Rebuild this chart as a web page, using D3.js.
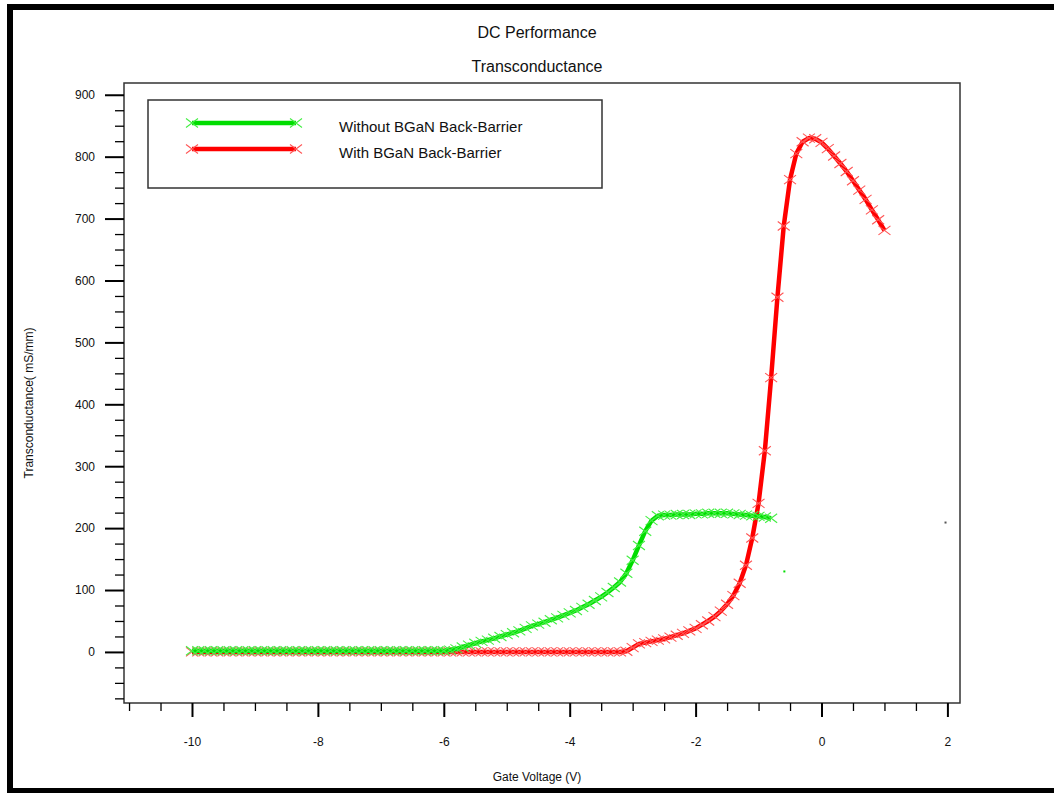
<!DOCTYPE html>
<html>
<head>
<meta charset="utf-8">
<script src="https://cdn.jsdelivr.net/npm/d3@7"></script>
<style>
  body { margin: 0; background: #fff; }
  svg { display: block; font-family: "Liberation Sans", Arial, sans-serif; }
</style>
</head>
<body>
<div id="chart"></div>
<script>
// gate voltage sweeps (V)
const vgRed = [
  -10.0, -9.9, -9.8, -9.7, -9.6, -9.5, -9.4, -9.3, -9.2, -9.1,
  -9.0, -8.9, -8.8, -8.7, -8.6, -8.5, -8.4, -8.3, -8.2, -8.1,
  -8.0, -7.9, -7.8, -7.7, -7.6, -7.5, -7.4, -7.3, -7.2, -7.1,
  -7.0, -6.9, -6.8, -6.7, -6.6, -6.5, -6.4, -6.3, -6.2, -6.1,
  -6.0, -5.9, -5.8, -5.7, -5.6, -5.5, -5.4, -5.3, -5.2, -5.1,
  -5.0, -4.9, -4.8, -4.7, -4.6, -4.5, -4.4, -4.3, -4.2, -4.1,
  -4.0, -3.9, -3.8, -3.7, -3.6, -3.5, -3.4, -3.3, -3.2, -3.1,
  -3.0, -2.9, -2.8, -2.7, -2.6, -2.5, -2.4, -2.3, -2.2, -2.1,
  -2.0, -1.9, -1.8, -1.7, -1.6, -1.5, -1.4, -1.3, -1.2, -1.1,
  -1.0, -0.9, -0.8, -0.7, -0.6, -0.5, -0.4, -0.3, -0.2, -0.1,
  0.0, 0.1, 0.2, 0.3, 0.4, 0.5, 0.6, 0.7, 0.8, 0.9, 1.0
];
// With BGaN back-barrier (mS/mm)
const gmRed = [
  0, 0, 0, 0, 0, 0, 0, 0, 0, 0,
  0, 0, 0, 0, 0, 0, 0, 0, 0, 0,
  0, 0, 0, 0, 0, 0, 0, 0, 0, 0,
  0, 0, 0, 0, 0, 0, 0, 0, 0, 0,
  0, 0, 0, 0, 0, 0, 0, 0, 0, 0,
  0, 0, 0, 0, 0, 0, 0, 0, 0, 0,
  0, 0, 0, 0, 0, 0, 0, 0, 0, 1,
  7, 13, 15, 17, 19, 21, 24, 27, 30, 34,
  38, 44, 50, 57, 66, 77, 91, 111, 140, 184,
  240, 325, 443, 573, 688, 763, 805, 824, 830, 829,
  823, 813, 801, 789, 776, 761, 746, 731, 714, 698, 681
];

const vgGreen = [
  -10.0, -9.9, -9.8, -9.7, -9.6, -9.5, -9.4, -9.3, -9.2, -9.1,
  -9.0, -8.9, -8.8, -8.7, -8.6, -8.5, -8.4, -8.3, -8.2, -8.1,
  -8.0, -7.9, -7.8, -7.7, -7.6, -7.5, -7.4, -7.3, -7.2, -7.1,
  -7.0, -6.9, -6.8, -6.7, -6.6, -6.5, -6.4, -6.3, -6.2, -6.1,
  -6.0, -5.9, -5.8, -5.7, -5.6, -5.5, -5.4, -5.3, -5.2, -5.1,
  -5.0, -4.9, -4.8, -4.7, -4.6, -4.5, -4.4, -4.3, -4.2, -4.1,
  -4.0, -3.9, -3.8, -3.7, -3.6, -3.5, -3.4, -3.3, -3.2, -3.1,
  -3.0, -2.9, -2.8, -2.7, -2.6, -2.5, -2.4, -2.3, -2.2, -2.1,
  -2.0, -1.9, -1.8, -1.7, -1.6, -1.5, -1.4, -1.3, -1.2, -1.1,
  -1.0, -0.9, -0.8
];
// Without BGaN back-barrier (mS/mm)
const gmGreen = [
  2, 2, 2, 2, 2, 2, 2, 2, 2, 2,
  2, 2, 2, 2, 2, 2, 2, 2, 2, 2,
  2, 2, 2, 2, 2, 2, 2, 2, 2, 2,
  2, 2, 2, 2, 2, 2, 2, 2, 2, 2,
  2, 3, 5, 8, 11, 14, 17, 19, 22, 25,
  28, 31, 34, 38, 42, 45, 48, 52, 55, 59,
  63, 67, 72, 77, 83, 89, 96, 104, 113, 127,
  148, 172, 195, 212, 220, 221, 221, 222, 222, 222,
  223, 223, 224, 224, 224, 224, 223, 222, 221, 220,
  219, 218, 216
];

// two stray pixels in the original plot
const strayV = [1.97, -0.59];
const strayG = [209, 130];
const strayColor = ["#555", "#00dd00"];

const seriesNames = ["Without BGaN Back-Barrier", "With BGaN Back-Barrier"];
const seriesColors = ["#00dd00", "#ff0000"];
const markerColors = ["#44ee44", "#ff5555"];

const xTicks = [-10, -8, -6, -4, -2, 0, 2];
const yTicks = [0, 100, 200, 300, 400, 500, 600, 700, 800, 900];

const W = 1054, H = 793;
const box = { left: 124, top: 83, right: 960, bottom: 703 };

const svg = d3.select("#chart").append("svg")
  .attr("width", W)
  .attr("height", H);

// window frame
svg.append("rect").attr("x", 7).attr("y", 4).attr("width", 6).attr("height", H - 4).attr("fill", "#000");
svg.append("rect").attr("x", 7).attr("y", 4).attr("width", W - 7).attr("height", 6).attr("fill", "#000");
svg.append("rect").attr("x", 7).attr("y", 788).attr("width", W - 7).attr("height", 5).attr("fill", "#000");

// titles
svg.append("text").attr("x", 537).attr("y", 38).attr("text-anchor", "middle")
  .attr("font-size", 16).attr("fill", "#111").text("DC Performance");
svg.append("text").attr("x", 537).attr("y", 72).attr("text-anchor", "middle")
  .attr("font-size", 16).attr("fill", "#111").text("Transconductance");

const x = d3.scaleLinear().domain([-11.08, 2.2]).range([box.left, box.right]);
const y = d3.scaleLinear().domain([-82.5, 919]).range([box.bottom, box.top]);

// plot frame
svg.append("rect")
  .attr("x", box.left).attr("y", box.top)
  .attr("width", box.right - box.left).attr("height", box.bottom - box.top)
  .attr("fill", "none").attr("stroke", "#333").attr("stroke-width", 1.5);

// y axis
const yAxis = svg.append("g").attr("transform", `translate(${box.left},0)`)
  .call(d3.axisLeft(y).tickValues(yTicks).tickSize(19).tickPadding(10).tickFormat(d => String(d)));
yAxis.select(".domain").remove();
yAxis.selectAll(".tick line").attr("stroke", "#000").attr("stroke-width", 2);
yAxis.selectAll("text").attr("font-size", 12).attr("fill", "#111")
  .attr("font-family", "Liberation Sans, Arial, sans-serif");

const yMinor = svg.append("g").attr("transform", `translate(${box.left},0)`)
  .call(d3.axisLeft(y).tickValues(d3.range(-75, 901, 25).filter(v => v % 100 !== 0)).tickSize(9).tickFormat(""));
yMinor.select(".domain").remove();
yMinor.selectAll(".tick line").attr("stroke", "#000").attr("stroke-width", 1.3);

// x axis
const xAxis = svg.append("g").attr("transform", `translate(0,${box.bottom})`)
  .call(d3.axisBottom(x).tickValues(xTicks).tickSize(14).tickPadding(20).tickFormat(d => String(d)));
xAxis.select(".domain").remove();
xAxis.selectAll(".tick line").attr("stroke", "#000").attr("stroke-width", 2);
xAxis.selectAll("text").attr("font-size", 12).attr("fill", "#111")
  .attr("font-family", "Liberation Sans, Arial, sans-serif");

const xMinor = svg.append("g").attr("transform", `translate(0,${box.bottom})`)
  .call(d3.axisBottom(x).tickValues(d3.range(-11, 2.01, 0.5).filter(v => v % 2 !== 0)).tickSize(8).tickFormat(""));
xMinor.select(".domain").remove();
xMinor.selectAll(".tick line").attr("stroke", "#000").attr("stroke-width", 1.3);

// axis titles
svg.append("text").attr("x", 537).attr("y", 781).attr("text-anchor", "middle")
  .attr("font-size", 12).attr("fill", "#111").text("Gate Voltage (V)");
svg.append("text").attr("transform", "translate(33,403) rotate(-90)").attr("text-anchor", "middle")
  .attr("font-size", 12).attr("fill", "#111").text("Transconductance( mS/mm)");

// curves
const series = [
  { v: vgGreen, g: gmGreen },
  { v: vgRed, g: gmRed }
];
const line = d3.line().x(d => x(d[0])).y(d => y(d[1]));

function xMark(sel, color) {
  sel.append("path")
    .attr("d", "M-6,-4.5L6,4.5M-6,4.5L6,-4.5")
    .attr("stroke", color).attr("stroke-width", 1.1).attr("fill", "none");
}

// draw red underneath green on the flat part
[1, 0].forEach(i => {
  const pts = series[i].v.map((v, j) => [v, series[i].g[j]]);
  svg.append("path").datum(pts)
    .attr("d", line)
    .attr("fill", "none")
    .attr("stroke", seriesColors[i])
    .attr("stroke-width", 4.5)
    .attr("stroke-linejoin", "round");
  svg.append("g").selectAll("g").data(pts).join("g")
    .attr("transform", d => `translate(${x(d[0])},${y(d[1])})`)
    .each(function () { xMark(d3.select(this), markerColors[i]); });
});

svg.append("g").selectAll("rect").data(strayV).join("rect")
  .attr("x", (d, i) => x(d) - 1).attr("y", (d, i) => y(strayG[i]) - 1)
  .attr("width", 2).attr("height", 2)
  .attr("fill", (d, i) => strayColor[i]);

// legend
const lg = svg.append("g");
lg.append("rect").attr("x", 148).attr("y", 100).attr("width", 454).attr("height", 88)
  .attr("fill", "#fff").attr("stroke", "#333").attr("stroke-width", 1.5);
seriesNames.forEach((name, i) => {
  const ly = 123 + i * 26;
  lg.append("line").attr("x1", 192).attr("x2", 296).attr("y1", ly).attr("y2", ly)
    .attr("stroke", seriesColors[i]).attr("stroke-width", 4.5);
  [192, 296].forEach(mx => {
    const m = lg.append("g").attr("transform", `translate(${mx},${ly})`);
    xMark(m, markerColors[i]);
  });
  lg.append("text").attr("x", 339).attr("y", ly + 9).attr("font-size", 15).attr("fill", "#111").text(name);
});
</script>
</body>
</html>
